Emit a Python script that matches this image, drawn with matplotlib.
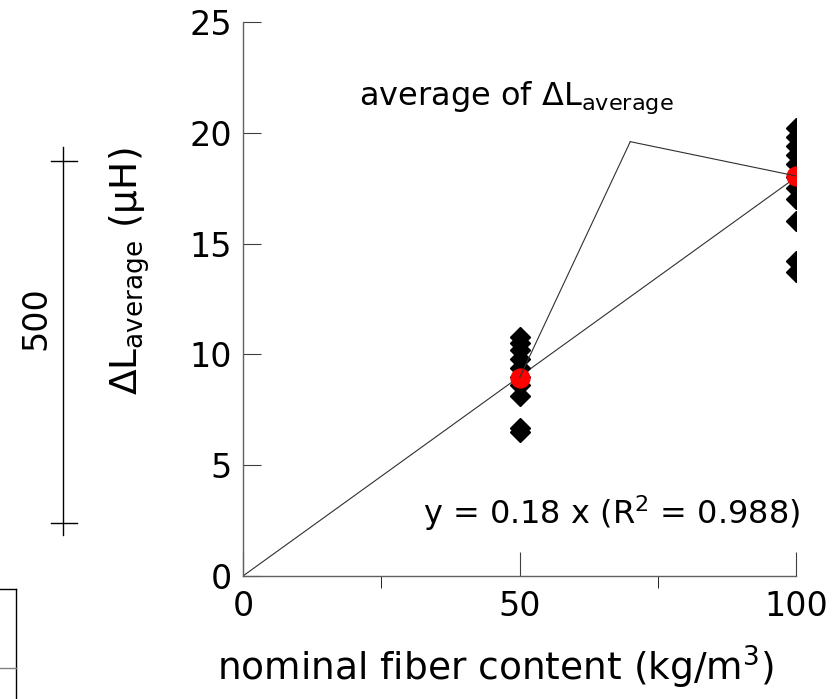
import numpy as np
import matplotlib
matplotlib.use("Agg")
import matplotlib.pyplot as plt
from matplotlib.lines import Line2D

plt.rcParams['font.family'] = ['DejaVu Sans']
plt.rcParams['mathtext.fontset'] = 'dejavusans'

# measured dL_average values per nominal fiber content
x_50 = [50] * 10
dl_50 = [10.8, 10.5, 10.2, 9.8, 9.4, 9.0, 8.6, 8.1, 6.7, 6.5]
x_100 = [100] * 11
dl_100 = [20.2, 19.8, 19.4, 19.0, 18.6, 18.0, 17.5, 17.0, 16.0, 14.2, 13.7]

# averages (red)
avg_x = [50, 100]
avg_dl = [8.95, 18.05]

# linear fit through origin
slope = 0.18
fit_x = [0, 100]

# pointer lines for the "average" label
apex = (70, 19.6)

fig = plt.figure(figsize=(8.37, 6.99), dpi=100)
ax = fig.add_axes([0.2903, 0.176, 0.661, 0.7925])

ax.plot(fit_x, [slope * v for v in fit_x], color='#303030', lw=0.8, zorder=2)
ax.plot(x_50, dl_50, 'D', color='black', ms=10, zorder=3)
ax.plot(x_100, dl_100, 'D', color='black', ms=10, zorder=3)
ax.plot(avg_x, avg_dl, 'o', color='red', ms=13.5, zorder=4)
for px, py in zip(avg_x, avg_dl):
    ax.plot([apex[0], px], [apex[1], py], color='#303030', lw=0.8, zorder=5)

ax.text(49.5, 21.6, r'average of $\Delta\mathrm{L}_{\mathrm{average}}$',
        fontsize=23, ha='center', va='center')
ax.text(100.8, 2.85, r'y = 0.18 x (R$^2$ = 0.988)', fontsize=23,
        ha='right', va='center')

ax.set_xlim(0, 100)
ax.set_ylim(0, 25)
ax.set_xticks([0, 50, 100])
ax.set_xticks([25, 75], minor=True)
ax.set_yticks([0, 5, 10, 15, 20, 25])
ax.tick_params(axis='both', direction='in', labelsize=24, color='#404040')
ax.tick_params(axis='x', which='major', length=17, pad=10)
ax.tick_params(axis='x', which='minor', length=8.5)
ax.tick_params(axis='y', length=13, pad=8)

for side in ['top', 'right']:
    ax.spines[side].set_visible(False)
for side in ['left', 'bottom']:
    ax.spines[side].set_color('#606060')
    ax.spines[side].set_linewidth(1.0)

ax.set_xlabel('nominal fiber content (kg/m$^3$)', fontsize=27)
ax.xaxis.set_label_coords(0.456, -0.122)
ax.set_ylabel(r'$\Delta\mathrm{L}_{\mathrm{average}}$ (μH)', fontsize=27)
ax.yaxis.set_label_coords(-0.165, 0.55)

# leftover scale bar and frame on the left edge
W, H = 837, 699
def fx(p):
    return p / W
def fy(p):
    return 1 - p / H

fig.add_artist(Line2D([fx(63), fx(63)], [fy(147), fy(535)], color='black', lw=1))
fig.add_artist(Line2D([fx(51), fx(77)], [fy(161), fy(161)], color='black', lw=1))
fig.add_artist(Line2D([fx(51), fx(77)], [fy(523), fy(523)], color='black', lw=1))
fig.text(fx(36), fy(318), '500', rotation=90, fontsize=24, ha='center', va='center')

fig.add_artist(Line2D([fx(16), fx(16)], [fy(589), 0], color='black', lw=1))
fig.add_artist(Line2D([0, fx(16)], [fy(589), fy(589)], color='black', lw=1))
fig.add_artist(Line2D([0, fx(16)], [fy(668), fy(668)], color='#808080', lw=1))

fig.savefig('out.png', dpi=100)
